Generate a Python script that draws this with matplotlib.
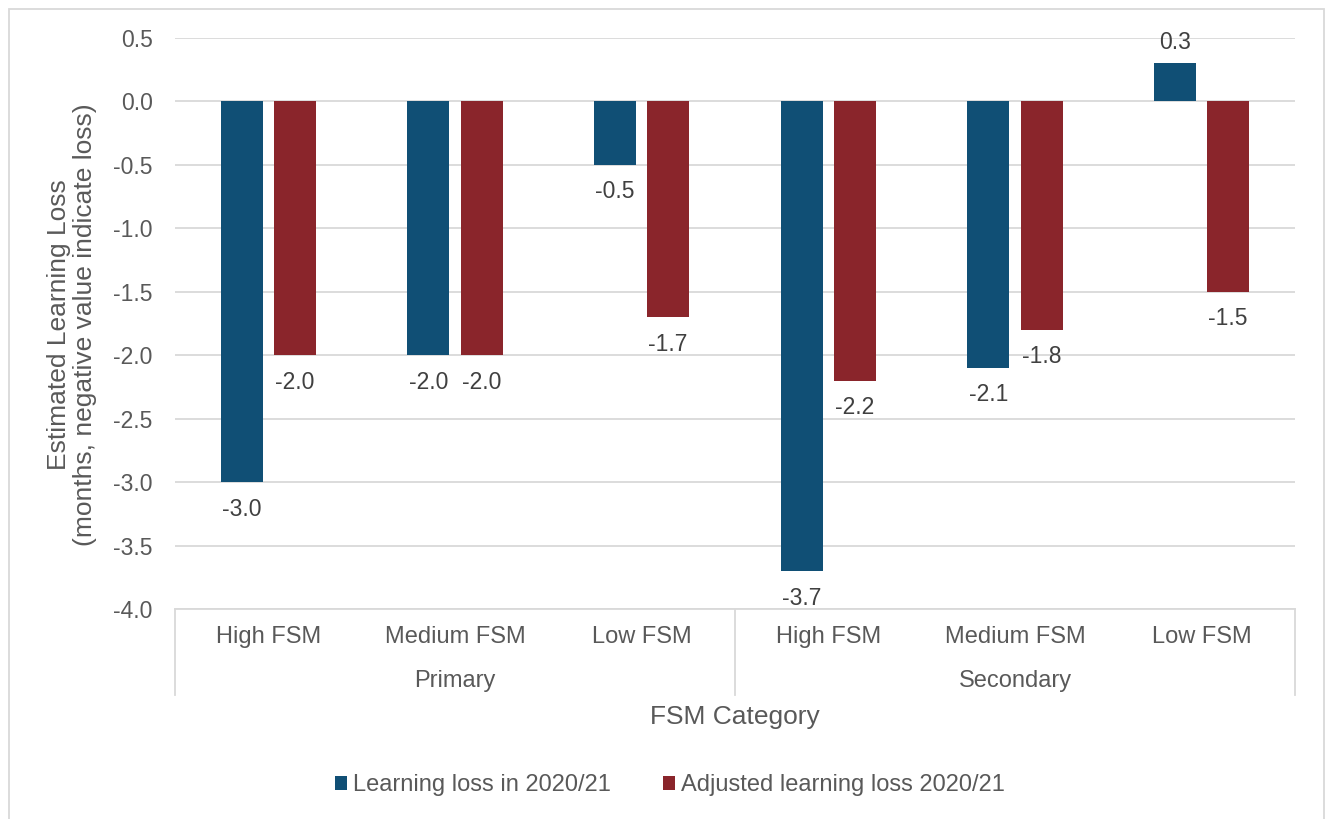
import numpy as np
import matplotlib.pyplot as plt
from matplotlib.patches import Rectangle

plt.rcParams['font.family'] = ['Liberation Sans', 'DejaVu Sans']

# data
categories = ['High FSM', 'Medium FSM', 'Low FSM', 'High FSM', 'Medium FSM', 'Low FSM']
groups = ['Primary', 'Secondary']
loss = [-3.0, -2.0, -0.5, -3.7, -2.1, 0.3]
adjusted = [-2.0, -2.0, -1.7, -2.2, -1.8, -1.5]
series_names = ['Learning loss in 2020/21', 'Adjusted learning loss 2020/21']

blue = '#104F75'
red = '#8A252B'
txt = '#595959'
grid = '#D9D9D9'
fs = 16.5

W, H = 1327, 819
fig = plt.figure(figsize=(W / 100, H / 100), dpi=100)
ax = fig.add_axes([175 / W, 1 - 609 / H, (1295 - 175) / W, (609 - 38) / H])

x = np.arange(len(categories))
bw = 0.225
off = 0.142
b1 = ax.bar(x - off, loss, bw, color=blue, zorder=3, label=series_names[0])
b2 = ax.bar(x + off, adjusted, bw, color=red, zorder=3, label=series_names[1])

ax.set_xlim(-0.5, len(categories) - 0.5)
ax.set_ylim(-4.0, 0.5)
ax.set_yticks(np.arange(-4.0, 0.51, 0.5))
ax.set_yticklabels(['%.1f' % v for v in np.arange(-4.0, 0.51, 0.5)])
ax.grid(axis='y', color=grid, linewidth=1.3, zorder=0)
ax.tick_params(axis='y', length=0, labelsize=fs, labelcolor=txt, pad=16)
ax.tick_params(axis='x', length=0, labelbottom=False)
for s in ['left', 'right', 'top']:
    ax.spines[s].set_visible(False)
ax.spines['bottom'].set_color(grid)
ax.spines['bottom'].set_linewidth(1.3)

# value labels
for bars, vals in [(b1, loss), (b2, adjusted)]:
    for r, v in zip(bars, vals):
        cx = r.get_x() + r.get_width() / 2
        if v >= 0:
            ax.annotate('%.1f' % v, (cx, v), xytext=(0, 7), textcoords='offset points',
                        ha='center', va='bottom', fontsize=fs, color='#404040')
        else:
            ax.annotate('%.1f' % v, (cx, v), xytext=(0, -19.5), textcoords='offset points',
                        ha='center', va='center', fontsize=fs, color='#404040')

# category axis: labels and group separators
trans = ax.get_xaxis_transform()
for i, c in enumerate(categories):
    ax.text(i, -(637 - 609) / (609 - 38), c, transform=trans, ha='center', va='center',
            fontsize=17, color=txt)
for j, g in enumerate(groups):
    ax.text(3 * j + 1, -(681 - 609) / (609 - 38), g, transform=trans, ha='center', va='center',
            fontsize=17, color=txt)
sep_bottom = -(695 - 609) / (609 - 38)
for xs in [-0.5, 2.5, 5.5]:
    ax.plot([xs, xs], [0, sep_bottom], transform=trans, color=grid, linewidth=1.3,
            clip_on=False)

fig.text((175 + 1295) / 2 / W, 1 - 717 / H, 'FSM Category', ha='center', va='center',
         fontsize=19, color=txt)
fig.text(72 / W, 1 - 325 / H, 'Estimated Learning Loss\n(months, negative value indicate loss)',
         rotation=90, ha='center', va='center', fontsize=19, color=txt, linespacing=1.15)

leg = fig.legend(handles=[b1, b2], loc='center', bbox_to_anchor=(670 / W, 1 - 785 / H), ncol=2,
                 frameon=False, fontsize=17, handlelength=0.52, handleheight=0.52,
                 handletextpad=0.25, columnspacing=2.2)
for t in leg.get_texts():
    t.set_color(txt)

# chart border
fig.patches.append(Rectangle((9 / W, -0.01), (1324 - 9) / W, 1 - 9 / H + 0.01,
                             transform=fig.transFigure, fill=False, edgecolor=grid,
                             linewidth=1.3))

fig.savefig('out.png', dpi=100)
